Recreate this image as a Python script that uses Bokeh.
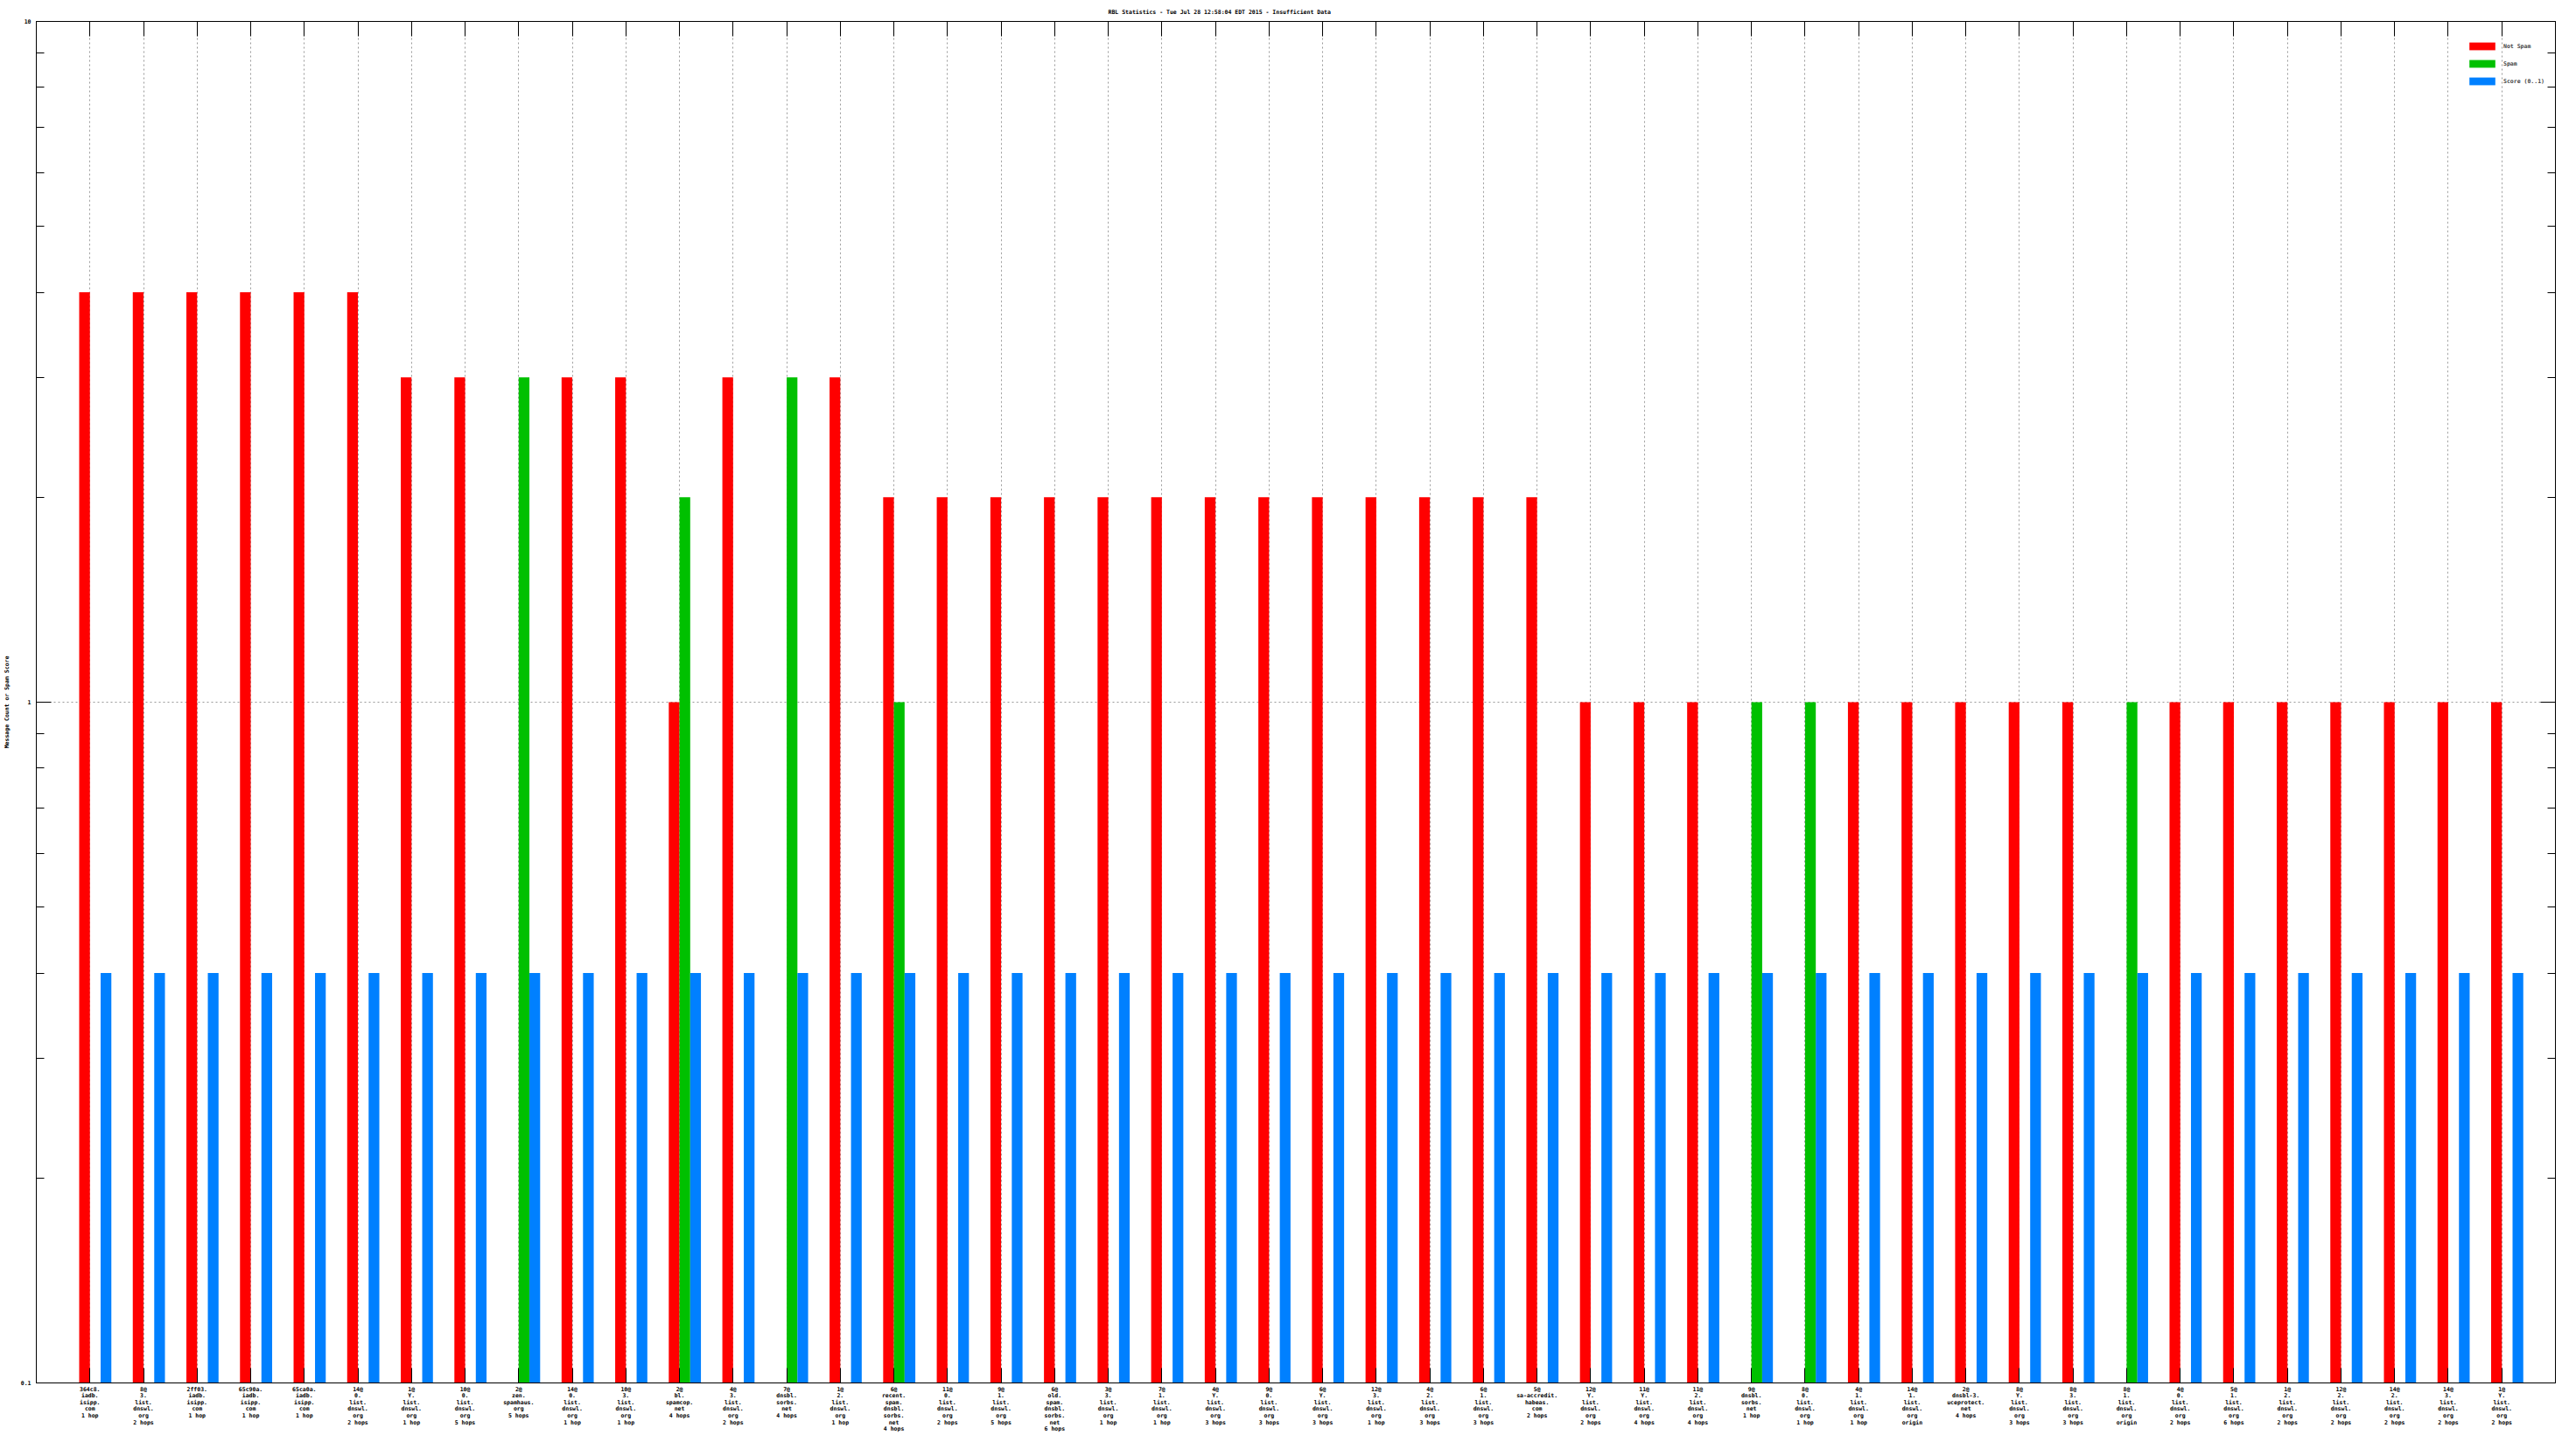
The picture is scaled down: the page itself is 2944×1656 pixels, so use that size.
import numpy as np
from bokeh.plotting import figure
from bokeh.models import (ColumnDataSource, FixedTicker, LinearAxis, LogAxis,
                          Legend, LegendItem, Title)
from bokeh.transform import dodge
from bokeh.embed import file_html
from bokeh.resources import INLINE

# ---------------- data ----------------
title_text = "RBL Statistics - Tue Jul 28 12:58:04 EDT 2015 - Insufficient Data"
y_label = "Message Count or Spam Score"
series_names = ["Not Spam", "Spam", "Score (0..1)"]
series_colors = ["#ff0000", "#00c000", "#0080ff"]

categories = [
    "364c8.\niadb.\nisipp.\ncom\n1 hop",
    "8@\n3.\nlist.\ndnswl.\norg\n2 hops",
    "2ff03.\niadb.\nisipp.\ncom\n1 hop",
    "65c90a.\niadb.\nisipp.\ncom\n1 hop",
    "65ca0a.\niadb.\nisipp.\ncom\n1 hop",
    "14@\n0.\nlist.\ndnswl.\norg\n2 hops",
    "1@\nY.\nlist.\ndnswl.\norg\n1 hop",
    "10@\n0.\nlist.\ndnswl.\norg\n5 hops",
    "2@\nzen.\nspamhaus.\norg\n5 hops",
    "14@\n0.\nlist.\ndnswl.\norg\n1 hop",
    "10@\n3.\nlist.\ndnswl.\norg\n1 hop",
    "2@\nbl.\nspamcop.\nnet\n4 hops",
    "4@\n3.\nlist.\ndnswl.\norg\n2 hops",
    "7@\ndnsbl.\nsorbs.\nnet\n4 hops",
    "1@\n2.\nlist.\ndnswl.\norg\n1 hop",
    "6@\nrecent.\nspam.\ndnsbl.\nsorbs.\nnet\n4 hops",
    "11@\n0.\nlist.\ndnswl.\norg\n2 hops",
    "9@\n1.\nlist.\ndnswl.\norg\n5 hops",
    "6@\nold.\nspam.\ndnsbl.\nsorbs.\nnet\n6 hops",
    "3@\n3.\nlist.\ndnswl.\norg\n1 hop",
    "7@\n1.\nlist.\ndnswl.\norg\n1 hop",
    "4@\nY.\nlist.\ndnswl.\norg\n3 hops",
    "9@\n0.\nlist.\ndnswl.\norg\n3 hops",
    "6@\nY.\nlist.\ndnswl.\norg\n3 hops",
    "12@\n3.\nlist.\ndnswl.\norg\n1 hop",
    "4@\n2.\nlist.\ndnswl.\norg\n3 hops",
    "6@\n1.\nlist.\ndnswl.\norg\n3 hops",
    "5@\nsa-accredit.\nhabeas.\ncom\n2 hops",
    "12@\nY.\nlist.\ndnswl.\norg\n2 hops",
    "11@\nY.\nlist.\ndnswl.\norg\n4 hops",
    "11@\n2.\nlist.\ndnswl.\norg\n4 hops",
    "9@\ndnsbl.\nsorbs.\nnet\n1 hop",
    "8@\n0.\nlist.\ndnswl.\norg\n1 hop",
    "4@\n1.\nlist.\ndnswl.\norg\n1 hop",
    "14@\n1.\nlist.\ndnswl.\norg\norigin",
    "2@\ndnsbl-3.\nuceprotect.\nnet\n4 hops",
    "8@\nY.\nlist.\ndnswl.\norg\n3 hops",
    "8@\n3.\nlist.\ndnswl.\norg\n3 hops",
    "8@\n1.\nlist.\ndnswl.\norg\norigin",
    "4@\n0.\nlist.\ndnswl.\norg\n2 hops",
    "5@\n1.\nlist.\ndnswl.\norg\n6 hops",
    "1@\n2.\nlist.\ndnswl.\norg\n2 hops",
    "12@\n2.\nlist.\ndnswl.\norg\n2 hops",
    "14@\n2.\nlist.\ndnswl.\norg\n2 hops",
    "14@\n3.\nlist.\ndnswl.\norg\n2 hops",
    "1@\nY.\nlist.\ndnswl.\norg\n2 hops",
]

not_spam = [4, 4, 4, 4, 4, 4, 3, 3, 0, 3, 3, 1, 3, 0, 3, 2, 2, 2, 2, 2, 2, 2, 2,
            2, 2, 2, 2, 2, 1, 1, 1, 0, 0, 1, 1, 1, 1, 1, 0, 1, 1, 1, 1, 1, 1, 1]
spam = [0, 0, 0, 0, 0, 0, 0, 0, 3, 0, 0, 2, 0, 3, 0, 1, 0, 0, 0, 0, 0, 0, 0,
        0, 0, 0, 0, 0, 0, 0, 0, 1, 1, 0, 0, 0, 0, 0, 1, 0, 0, 0, 0, 0, 0, 0]
score = [0.4, 0.4, 0.4, 0.4, 0.4, 0.4, 0.4, 0.4, 0.4, 0.4, 0.4, 0.4, 0.4, 0.4,
         0.4, 0.4, 0.4, 0.4, 0.4, 0.4, 0.4, 0.4, 0.4, 0.4, 0.4, 0.4, 0.4, 0.4,
         0.4, 0.4, 0.4, 0.4, 0.4, 0.4, 0.4, 0.4, 0.4, 0.4, 0.4, 0.4, 0.4, 0.4,
         0.4, 0.4, 0.4, 0.4]

y_major = [0.1, 1, 10]
y_major_labels = ["0.1", "1", "10"]
y_minor = [0.2, 0.3, 0.4, 0.5, 0.6, 0.7, 0.8, 0.9, 2, 3, 4, 5, 6, 7, 8, 9]

# ---------------- styling ----------------
FONT = "DejaVu Sans Mono"
FS = "6.5px"
FSTYLE = "bold"
W, H = 2928, 1640

idx = list(range(len(categories)))


def nz(a):
    a = np.asarray(a, dtype=float)
    return np.where(a > 0, a, np.nan)


src = ColumnDataSource(dict(x=idx, ns=nz(not_spam), sp=nz(spam), sc=nz(score)))

p = figure(width=W, height=H, y_axis_type="log",
           x_range=(-1, len(categories)), y_range=(0.1, 10),
           output_backend="svg", toolbar_location=None,
           min_border_left=32, min_border_right=8, min_border_top=24,
           min_border_bottom=52)
p.background_fill_color = "white"
p.border_fill_color = "white"
p.outline_line_color = "black"
p.outline_line_width = 1

p.title = Title(text=title_text, align="left", offset=1225,
                text_font=FONT, text_font_size=FS, text_font_style=FSTYLE,
                text_color="black", standoff=13)

bw = 0.2
r1 = p.vbar(x=dodge("x", -0.1), width=bw, top="ns", bottom=0.1, source=src,
            fill_color=series_colors[0], line_color=None)
r2 = p.vbar(x=dodge("x", 0.1), width=bw, top="sp", bottom=0.1, source=src,
            fill_color=series_colors[1], line_color=None)
r3 = p.vbar(x=dodge("x", 0.3), width=bw, top="sc", bottom=0.1, source=src,
            fill_color=series_colors[2], line_color=None)

# grids
p.xgrid.ticker = FixedTicker(ticks=idx)
p.xgrid.grid_line_color = "#999999"
p.xgrid.grid_line_dash = "2 3"
p.ygrid.ticker = FixedTicker(ticks=[1])
p.ygrid.grid_line_color = "#999999"
p.ygrid.grid_line_dash = "2 3"


def style_axis(ax):
    ax.axis_line_color = "black"
    ax.major_tick_line_color = "black"
    ax.minor_tick_line_color = "black"
    ax.major_tick_in = 17
    ax.major_tick_out = 0
    ax.minor_tick_in = 9
    ax.minor_tick_out = 0
    ax.major_label_text_font = FONT
    ax.major_label_text_font_size = FS
    ax.major_label_text_font_style = FSTYLE
    ax.major_label_text_color = "black"
    ax.axis_label_text_font = FONT
    ax.axis_label_text_font_size = FS
    ax.axis_label_text_font_style = FSTYLE
    ax.axis_label_text_color = "black"


# bottom x axis
xa = p.xaxis[0]
style_axis(xa)
xa.ticker = FixedTicker(ticks=idx)
xa.major_label_overrides = {i: c for i, c in zip(idx, categories)}
xa.major_label_standoff = 3
xa.major_label_text_line_height = 0.95
xa.minor_tick_line_color = None

# left y axis
ya = p.yaxis[0]
style_axis(ya)
ya.ticker = FixedTicker(ticks=y_major, minor_ticks=y_minor)
ya.major_label_overrides = {v: s for v, s in zip(y_major, y_major_labels)}
ya.major_label_standoff = 6
ya.axis_label = y_label
ya.axis_label_standoff = 9

# mirror axes (top / right), ticks only
top = LinearAxis(ticker=FixedTicker(ticks=idx))
style_axis(top)
top.minor_tick_line_color = None
top.major_label_text_font_size = "0px"
top.major_label_standoff = 0
top.major_label_overrides = {i: "" for i in idx}
p.add_layout(top, "above")

right = LogAxis(ticker=FixedTicker(ticks=y_major, minor_ticks=y_minor))
style_axis(right)
right.major_label_text_font_size = "0px"
right.major_label_standoff = 0
right.major_label_overrides = {v: "" for v in y_major}
p.add_layout(right, "right")

# legend (position given as bottom-left corner relative to the frame)
legend = Legend(items=[LegendItem(label=series_names[0], renderers=[r1]),
                       LegendItem(label=series_names[1], renderers=[r2]),
                       LegendItem(label=series_names[2], renderers=[r3])],
                location=(2777, 1482), glyph_width=37, glyph_height=11,
                label_text_font=FONT, label_text_font_size=FS,
                label_text_font_style=FSTYLE,
                label_standoff=6, spacing=9, padding=0, margin=0,
                border_line_color=None, background_fill_alpha=0)
p.add_layout(legend)

open("out.html", "w").write(file_html(p, INLINE))
